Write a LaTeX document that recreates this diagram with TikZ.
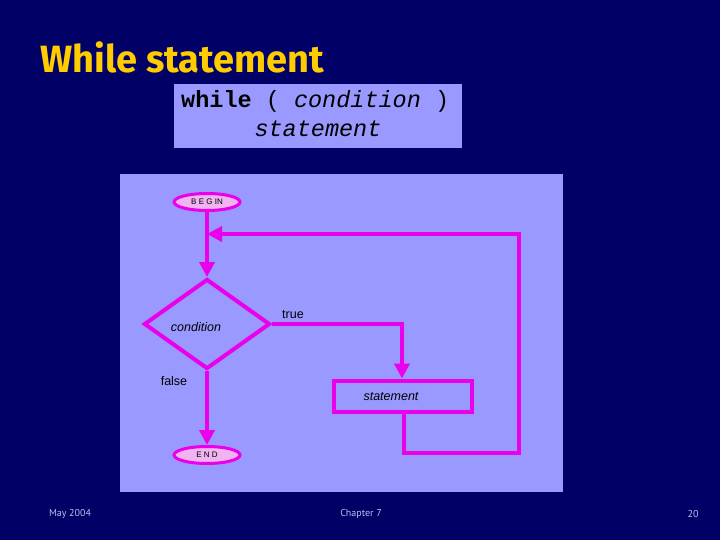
\documentclass[tikz,border=0pt]{standalone}
\usepackage{fontspec}
\setmainfont{Liberation Sans}
\newfontfamily\titlefont{Fira Sans}
\newfontfamily\codefont{Liberation Mono}
\newfontfamily\footfont{PT Sans}
\usetikzlibrary{arrows.meta,shapes.geometric}
\definecolor{navy}{RGB}{0,0,102}
\definecolor{panel}{RGB}{153,153,255}
\definecolor{mag}{RGB}{235,0,235}
\definecolor{ttl}{RGB}{255,204,0}
\definecolor{pinkfill}{RGB}{240,180,240}
\definecolor{foot}{RGB}{190,190,240}
\tikzset{
  flow/.style={draw=mag,line width=4pt},
  arr/.style={flow,-{Triangle[length=15pt,width=15pt]}},
  term/.style={ellipse,draw=mag,line width=3pt,fill=pinkfill,minimum width=66pt,minimum height=17pt,inner sep=0pt,font=\fontsize{8}{8}\selectfont},
  lbl/.style={font=\fontsize{12.5}{13}\selectfont,text=black},
  foottxt/.style={font=\footfont\fontsize{10}{11}\selectfont,text=foot}
}
\begin{document}
\begin{tikzpicture}[x=1pt,y=-1pt]
\fill[navy] (0,0) rectangle (720,540);
\useasboundingbox (0,0) rectangle (720,540);
% title
\node[anchor=base west,text=ttl,font=\titlefont\bfseries\fontsize{38}{40}\selectfont,inner sep=0] (title) at (40,73) {While statement};
% code box
\fill[panel] (174,84) rectangle (462,148);
\node[anchor=base west,inner sep=0,font=\codefont\fontsize{23.5}{26}\selectfont] (code1) at (181,108) {\textbf{while} ( \textit{condition} )};
\node[anchor=base,inner sep=0,font=\codefont\fontsize{23.5}{26}\selectfont] (code2) at (318,137) {\textit{statement}};
% panel
\fill[panel] (120,174) rectangle (563,492);
% nodes
\node[term] (begin) at (207,202) {B E G IN};
\node[term] (end) at (207,455) {E N D};
\node[diamond,draw=mag,line width=4pt,minimum width=126pt,minimum height=90pt,aspect=1.4,inner sep=0] (cond) at (207,324) {};
\node[lbl,font=\itshape\fontsize{12.5}{13}\selectfont] (condt) at (196,327) {condition};
\node[draw=mag,line width=4pt,minimum width=138pt,minimum height=31pt,inner sep=0] (stmt) at (403,396) {};
\node[lbl,font=\itshape\fontsize{12.5}{13}\selectfont] (stmtt) at (391,397) {statement};
\node[lbl] (true) at (293,315) {true};
\node[lbl] (false) at (174,381) {false};
% connectors
\coordinate (c1) at (402,324);
\coordinate (l1) at (404,453);
\coordinate (l2) at (519,453);
\coordinate (l3) at (519,234);
\coordinate (l4) at (207,234);
\draw[arr] (begin.south) -- (cond.north);
\draw[arr] (cond.east) -- (c1) -- (c1 |- stmt.north);
\draw[arr] (cond.south) -- (end.north);
\draw[arr] (stmt.south -| l1) -- (l1) -- (l2) -- (l3) -- (l4);
% footer
\node[foottxt] (date) at (70,514) {May 2004};
\node[foottxt] (chap) at (361,514) {Chapter 7};
\node[foottxt] (page) at (693,514) {20};
\end{tikzpicture}
\end{document}
